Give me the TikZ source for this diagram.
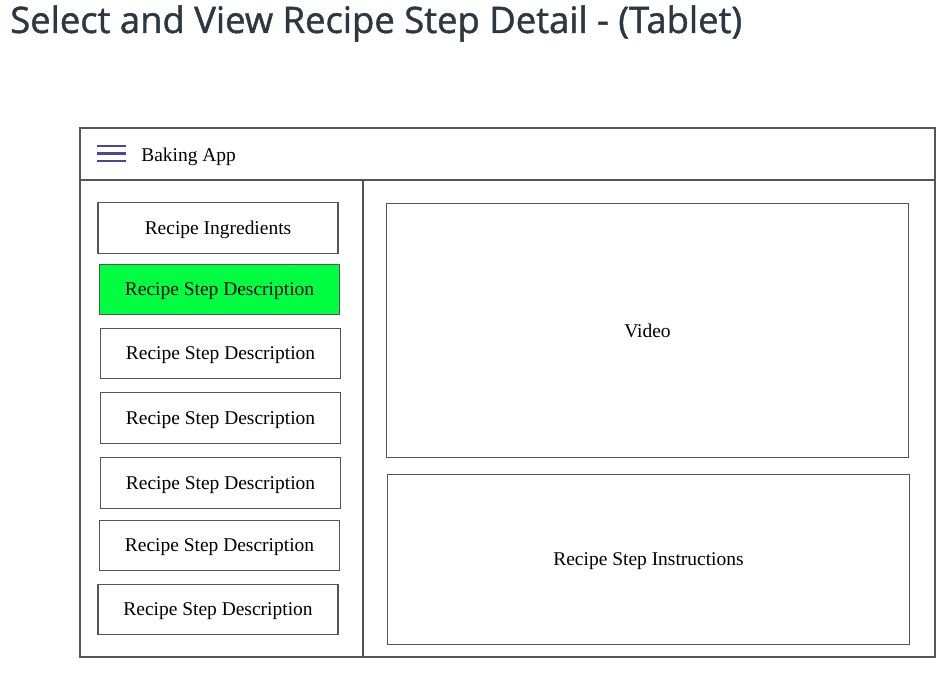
\documentclass[tikz,border=0pt]{standalone}
\usepackage{fontspec}
\setmainfont{Liberation Serif}
\newfontfamily\headfont[FakeBold=1.2]{Open Sans}
\usetikzlibrary{positioning,shapes}

\definecolor{framegray}{RGB}{85,85,85}
\definecolor{menublue}{RGB}{72,72,150}
\definecolor{selgreen}{RGB}{0,255,64}
\definecolor{headgray}{RGB}{45,55,65}

\tikzset{
  frameline/.style={draw=framegray, line width=0.9pt},
  pane/.style={frameline, rectangle, inner sep=0pt, text depth=0pt, font=\fontsize{14.6}{17}\selectfont},
  listbox/.style={pane, minimum width=180pt, minimum height=38pt},
  menuline/.style={draw=menublue, line width=1.6pt}
}

\begin{document}
\begin{tikzpicture}[x=0.75pt, y=-0.75pt]
%      \draw[help lines] (0,0) grid[step=50] (952,675);
      \useasboundingbox (0,0) rectangle (952,675);

      \node[anchor=west, inner sep=0pt, text=headgray, font=\headfont\fontsize{27.3}{32}\selectfont] (title) at (10,23.5) {Select and View Recipe Step Detail - (Tablet)};

      % tablet frame
      \draw[frameline] (80,128) rectangle (935,657);
      \draw[frameline] (80,180) -- (935,180);
      \draw[frameline] (363,180) -- (363,657);

      % app bar
      \draw[menuline] (97,146) -- (126,146);
      \draw[menuline] (97,153.5) -- (126,153.5);
      \draw[menuline] (97,161) -- (126,161);
      \node[anchor=west, inner sep=0pt, font=\fontsize{14.6}{17}\selectfont] (appname) at (141,156.5) {Baking App};

      % step list
      \node[listbox] (ingr) at (218,228) {Recipe Ingredients};
      \node[listbox, fill=selgreen] (step1) at (219.5,289.5) {Recipe Step Description};
      \node[listbox] (step2) at (220.5,353.5) {Recipe Step Description};
      \node[listbox] (step3) at (220.5,418) {Recipe Step Description};
      \node[listbox] (step4) at (220.5,483) {Recipe Step Description};
      \node[listbox] (step5) at (219.5,545.5) {Recipe Step Description};
      \node[listbox] (step6) at (218,609.5) {Recipe Step Description};

      % detail pane
      \node[pane, minimum width=391pt, minimum height=191pt] (video) at (647.5,330.5) {Video};
      \node[pane, minimum width=392pt, minimum height=127pt] (instr) at (648.5,559.5) {Recipe Step Instructions};
    \end{tikzpicture}
\end{document}
